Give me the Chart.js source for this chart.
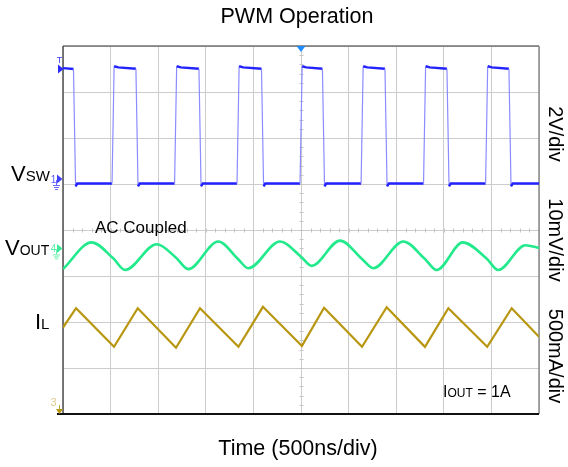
<!DOCTYPE html>
<html><head><meta charset="utf-8">
<script src="https://cdn.jsdelivr.net/npm/chart.js@4.4.1/dist/chart.umd.min.js"></script>
<style>html,body{margin:0;padding:0;background:#fff;}#wrap{width:568px;height:467px;}</style>
</head><body><div id="wrap"><canvas id="c" width="568" height="467"></canvas></div>
<script>
// Time axis: 10 divisions x 500 ns
const timeDivs = [0,500,1000,1500,2000,2500,3000,3500,4000,4500,5000];
// Channel 1: switch node voltage (V), breakpoints
const vswTime = [0,110,132,150,515,537,580,766,788,806,1172,1194,1237,1428,1450,1468,1828,1850,1893,2085,2107,2125,2490,2512,2555,2725,2747,2765,3131,3153,3196,3382,3404,3422,3787,3809,3852,4033,4055,4073,4439,4461,4504,4684,4706,4724,5000];
const vswVolt = [5.04,5.0,-0.1,0.02,0.02,5.12,5.07,5.01,-0.1,0.02,0.02,5.12,5.07,5.01,-0.1,0.02,0.02,5.12,5.07,5.01,-0.1,0.02,0.02,5.12,5.07,5.01,-0.1,0.02,0.02,5.12,5.07,5.01,-0.1,0.02,0.02,5.12,5.07,5.01,-0.1,0.02,0.02,5.12,5.07,5.01,-0.1,0.02,0.02];
// Channel 4: output ripple (mV, AC coupled)
const voutTime = [0,301,525,651,984,1182,1316,1631,1838,1946,2279,2500,2612,2910,3141,3259,3575,3797,3925,4199,4449,4572,4857,5000];
const voutMv   = [-4.5,1.3,-2.1,-4.7,0.9,-1.9,-4.5,1.5,-2.3,-4.3,1.5,-1.8,-3.8,1.7,-2.3,-4.3,1.5,-2.2,-4.7,1.3,-2.2,-4.7,0.7,0.1];
// Channel 3: inductor current (A)
const ilTime = [0,137,536,785,1187,1439,1843,2100,2510,2742,3141,3400,3802,4048,4456,4713,5000];
const ilAmp  = [0.94,1.15,0.73,1.15,0.72,1.15,0.73,1.165,0.74,1.155,0.73,1.16,0.73,1.15,0.73,1.15,0.84];

const toXY = (xs, ys) => xs.map((x, i) => ({x: x, y: ys[i]}));
const FONT = '"Liberation Sans", Arial, sans-serif';

function subText(ctx, main, sub, x, y, mainSize, subSize, color, rest) {
  ctx.fillStyle = color;
  ctx.textAlign = 'left';
  ctx.textBaseline = 'alphabetic';
  ctx.font = mainSize + 'px ' + FONT;
  ctx.fillText(main, x, y);
  let w = ctx.measureText(main).width;
  ctx.font = subSize + 'px ' + FONT;
  ctx.fillText(sub, x + w, y);
  w += ctx.measureText(sub).width;
  if (rest) { ctx.font = mainSize + 'px ' + FONT; ctx.fillText(rest, x + w, y); }
}

function groundGlyph(ctx, x, y, color) {
  ctx.strokeStyle = color; ctx.lineWidth = 1;
  ctx.beginPath();
  ctx.moveTo(x + 0.5, y - 4); ctx.lineTo(x + 0.5, y + 1);
  ctx.moveTo(x - 3, y + 1.5); ctx.lineTo(x + 4, y + 1.5);
  ctx.moveTo(x - 2, y + 3.5); ctx.lineTo(x + 3, y + 3.5);
  ctx.moveTo(x - 1, y + 5.5); ctx.lineTo(x + 2, y + 5.5);
  ctx.stroke();
}
function rightArrow(ctx, x, y, color) {
  ctx.fillStyle = color;
  ctx.beginPath(); ctx.moveTo(x, y - 4.5); ctx.lineTo(x + 5.5, y); ctx.lineTo(x, y + 4.5); ctx.closePath(); ctx.fill();
}

const scopePlugin = {
  id: 'scope',
  beforeDatasetsDraw(chart) {
    const ctx = chart.ctx, a = chart.chartArea;
    const xs = chart.scales.x, ys = chart.scales.y;
    ctx.save();
    // center crosshair minor ticks
    ctx.strokeStyle = '#c4c4c4'; ctx.lineWidth = 1;
    const cx = Math.round(xs.getPixelForValue(2500)) + 0.5;
    const cy = Math.round(ys.getPixelForValue(4)) + 0.5;
    ctx.beginPath();
    for (let d = 0; d <= 40; d++) {
      const py = Math.round(ys.getPixelForValue(d / 5)) + 0.5;
      ctx.moveTo(cx - 2, py); ctx.lineTo(cx + 2, py);
    }
    for (let d = 0; d <= 50; d++) {
      const px = Math.round(xs.getPixelForValue(d * 100)) + 0.5;
      ctx.moveTo(px, cy - 2); ctx.lineTo(px, cy + 2);
    }
    ctx.stroke();
    // frame
    ctx.lineWidth = 1.5;
    ctx.strokeStyle = '#707070';
    ctx.beginPath(); ctx.moveTo(a.left, a.top); ctx.lineTo(a.right, a.top); ctx.stroke();
    ctx.strokeStyle = '#8a8a8a';
    ctx.beginPath(); ctx.moveTo(a.right, a.top); ctx.lineTo(a.right, a.bottom); ctx.stroke();
    ctx.strokeStyle = '#505050';
    ctx.beginPath(); ctx.moveTo(a.left, a.top); ctx.lineTo(a.left, a.bottom); ctx.stroke();
    ctx.strokeStyle = '#111111';
    ctx.lineWidth = 2;
    ctx.beginPath(); ctx.moveTo(a.left - 6, a.bottom); ctx.lineTo(a.right, a.bottom); ctx.stroke();
    ctx.restore();
  },
  afterDraw(chart) {
    const ctx = chart.ctx, a = chart.chartArea;
    const xs = chart.scales.x;
    ctx.save();
    // trigger position marker (top center)
    const tx = xs.getPixelForValue(2500);
    ctx.fillStyle = '#1e8cff';
    ctx.beginPath(); ctx.moveTo(tx - 4.5, a.top); ctx.lineTo(tx + 4.5, a.top); ctx.lineTo(tx, a.top + 6); ctx.closePath(); ctx.fill();
    // trigger level marker
    const yT = chart.scales.yV.getPixelForValue(5);
    ctx.fillStyle = '#3a3aff'; ctx.font = '9px ' + FONT; ctx.textAlign = 'center'; ctx.textBaseline = 'alphabetic';
    ctx.fillText('T', 59.5, 63);
    rightArrow(ctx, 58, yT, '#2a2aff');
    // ch1 marker
    const y1 = chart.scales.yV.getPixelForValue(0) - 5;
    ctx.fillStyle = '#5a5aff'; ctx.font = '10px ' + FONT; ctx.fillText('1', 53.5, y1 + 3.5);
    rightArrow(ctx, 57, y1, '#4040ff');
    groundGlyph(ctx, 56, y1 + 5, '#6a6aff');
    // ch4 marker
    const y4 = chart.scales.yVout.getPixelForValue(0);
    ctx.fillStyle = '#5aeea6'; ctx.fillText('4', 53.5, y4 + 3.5);
    rightArrow(ctx, 57, y4, '#3de898');
    groundGlyph(ctx, 56, y4 + 5, '#6af0b0');
    // ch3 marker
    const y3 = chart.scales.yI.getPixelForValue(0);
    ctx.fillStyle = '#dccb8a'; ctx.font = '11px ' + FONT; ctx.fillText('3', 53.5, y3 - 8);
    ctx.strokeStyle = '#c0a030'; ctx.lineWidth = 1;
    ctx.beginPath(); ctx.moveTo(59.5, y3 - 9); ctx.lineTo(59.5, y3 - 3); ctx.stroke();
    ctx.fillStyle = '#b8960f';
    ctx.beginPath(); ctx.moveTo(56, y3 - 5); ctx.lineTo(63, y3 - 5); ctx.lineTo(59.5, y3); ctx.closePath(); ctx.fill();

    // texts
    ctx.fillStyle = '#000'; ctx.textAlign = 'center'; ctx.textBaseline = 'middle';
    ctx.font = '21.5px ' + FONT;
    ctx.fillText('PWM Operation', 297, 17);
    ctx.fillText('Time (500ns/div)', 298, 449);
    ctx.font = '20px ' + FONT;
    const rot = (txt, x, y) => { ctx.save(); ctx.translate(x, y); ctx.rotate(Math.PI / 2); ctx.fillText(txt, 0, 0); ctx.restore(); };
    rot('2V/div', 555, 134);
    rot('10mV/div', 555, 240);
    rot('500mA/div', 555, 356);
    subText(ctx, 'V', 'SW', 11, 181, 22, 15, '#000');
    subText(ctx, 'V', 'OUT', 5, 255, 22, 14, '#000');
    subText(ctx, 'I', 'L', 35, 329, 22, 15, '#000');
    ctx.font = '17px ' + FONT; ctx.textAlign = 'left'; ctx.textBaseline = 'alphabetic';
    ctx.fillText('AC Coupled', 95, 233);
    subText(ctx, 'I', 'OUT', 443, 397, 16, 12, '#000', ' = 1A');
    ctx.restore();
  }
};

new Chart(document.getElementById('c'), {
  type: 'line',
  data: {
    datasets: [
      { label: 'VSW', data: toXY(vswTime, vswVolt), yAxisID: 'yV', borderColor: '#2323ff', borderWidth: 2, pointRadius: 0, tension: 0,
        segment: {
          borderColor: c => Math.abs(c.p0.parsed.y - c.p1.parsed.y) > 1 ? '#8c8cff' : '#2323ff',
          borderWidth: c => Math.abs(c.p0.parsed.y - c.p1.parsed.y) > 1 ? 1.2 : 2.4
        } },
      { label: 'VOUT', data: toXY(voutTime, voutMv), yAxisID: 'yVout', borderColor: '#22ea8c', borderWidth: 2.6, pointRadius: 0, cubicInterpolationMode: 'monotone' },
      { label: 'IL', data: toXY(ilTime, ilAmp), yAxisID: 'yI', borderColor: '#b8960f', borderWidth: 2.2, pointRadius: 0, tension: 0 }
    ]
  },
  options: {
    responsive: false, animation: false, devicePixelRatio: 1,
    layout: { padding: { left: 63, right: 29, top: 46, bottom: 53 } },
    plugins: { legend: { display: false }, title: { display: false }, tooltip: { enabled: false } },
    scales: {
      x: { type: 'linear', min: timeDivs[0], max: timeDivs[timeDivs.length - 1],
           afterBuildTicks: s => { s.ticks = timeDivs.map(v => ({ value: v })); },
           ticks: { display: false }, grid: { color: '#cccccc', drawTicks: false, lineWidth: 1 }, border: { display: false } },
      y: { type: 'linear', min: 0, max: 8, ticks: { display: false, stepSize: 1 },
           grid: { color: '#cccccc', drawTicks: false, lineWidth: 1 }, border: { display: false } },
      yV: { type: 'linear', display: false, min: -10, max: 6 },
      yVout: { type: 'linear', display: false, min: -36, max: 44 },
      yI: { type: 'linear', display: false, min: 0, max: 4 }
    }
  },
  plugins: [scopePlugin]
});
</script></body></html>
